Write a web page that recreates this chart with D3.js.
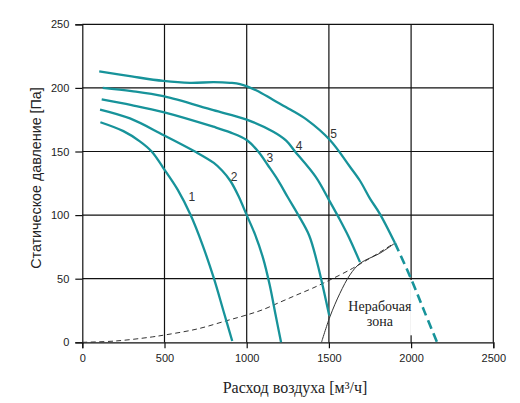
<!doctype html>
<html lang="ru">
  <head>
    <meta charset="utf-8">
    <title>Характеристика вентилятора</title>
    <script src="https://d3js.org/d3.v7.min.js"></script>
    <style>
      body { margin: 0; background: #fff; }
      .tick text { font-family: 'Liberation Sans', Arial, sans-serif; font-size: 11px; fill: #222; }
    </style>
  </head>
  <body>
    <div id="root"></div>
  </body>
  <script>

    //data: [расход м3/ч, давление Па]
    const curve1 = [[110,173],[250,166],[350,158],[422,150],[493,137],[580,120],[659,100],[730,77],[801,50],[860,24],[912,1]];
    const curve2 = [[108,183],[290,176],[493,163],[685,150],[800,141],[850,135],[900,127],[950,115],[1000,100],[1050,85],[1100,66],[1140,45],[1175,22],[1209,0]];
    const curve3 = [[118,191],[300,186.5],[493,181],[797,169.5],[900,165],[1000,159],[1070,150],[1130,139],[1190,127.5],[1250,114],[1314,100],[1380,84],[1430,62],[1470,40],[1502,21]];
    const curve4 = [[124,200],[300,197.5],[493,193.5],[797,182.5],[1000,175],[1162,165.5],[1240,158.5],[1294,150],[1420,130],[1500,112],[1560,98],[1620,83],[1689,63]];
    const curve5 = [[103,213],[300,209],[493,205.5],[655,204],[800,204.5],[898,204],[959,203],[1060,198],[1162,190.5],[1265,183],[1365,175],[1506,159],[1628,138],[1689,127],[1750,113],[1810,101],[1902,78]];
    const curve5ext = [[1902,78],[2003,49],[2080,24.5],[2158,0]];
    const systemLine = [[0,0],[200,1],[412,4],[513,6],[700,10.5],[878,17],[1000,21.5],[1095,25.5],[1202,31.5],[1300,37],[1400,42.5],[1506,49],[1628,57],[1689,61.5],[1800,70],[1892,77.5]];
    const boundary = [[1455,0],[1506,20],[1567,38.5],[1628,53],[1689,62],[1810,70],[1902,78]];
    const curveLabels = ["1", "2", "3", "4", "5"];
    const labelPos = [[667,111],[924,126.5],[1141,141.5],[1318,151],[1529,161]];
    const xTicks = [0, 500, 1000, 1500, 2000, 2500];
    const yTicks = [0, 50, 100, 150, 200, 250];

    //constants:
    const width = 520;
    const height = 403;
    const teal = "#17939a";

    const svg = d3.select("#root")
      .append("svg")
      .attr("width", width)
      .attr("height", height);

    const x = d3.scaleLinear().domain([0, 2500]).range([82.3, 493.3]);
    const y = d3.scaleLinear().domain([0, 250]).range([342.3, 24.3]);

    //grid
    const grid = svg.append("g").attr("stroke", "#111").attr("stroke-width", 1.2);
    grid.selectAll(".vg")
      .data(xTicks.slice(1))
      .enter()
      .append("line")
      .attr("x1", d => x(d)).attr("x2", d => x(d))
      .attr("y1", y(250)).attr("y2", y(0));
    grid.selectAll(".hg")
      .data(yTicks.slice(1))
      .enter()
      .append("line")
      .attr("x1", x(0)).attr("x2", x(2500))
      .attr("y1", d => y(d)).attr("y2", d => y(d));
    // gap in the 2000 line under the dashed extension
    svg.append("line")
      .attr("x1", x(2000)).attr("x2", x(2000))
      .attr("y1", y(49)).attr("y2", y(5.5))
      .attr("stroke", "#fff").attr("stroke-width", 2);

    //axes
    svg.append("g")
      .attr("transform", `translate(0,${y(0)})`)
      .call(d3.axisBottom(x).tickValues(xTicks).tickFormat(d3.format("d")).tickSize(6).tickPadding(6));
    svg.append("g")
      .attr("transform", `translate(${x(0)},0)`)
      .call(d3.axisLeft(y).tickValues(yTicks).tickSize(7).tickPadding(6));
    svg.selectAll(".domain").attr("stroke", "#111").attr("stroke-width", 1.2);
    svg.selectAll(".tick line").attr("stroke", "#111").attr("stroke-width", 1.2);

    const line = d3.line()
      .x(d => x(d[0]))
      .y(d => y(d[1]))
      .curve(d3.curveCatmullRom.alpha(0.5));

    //system curve
    svg.append("path")
      .attr("d", line(systemLine))
      .attr("fill", "none")
      .attr("stroke", "#333")
      .attr("stroke-width", 1)
      .attr("stroke-dasharray", "5,3.5");

    //boundary of working zone
    svg.append("path")
      .attr("d", line(boundary))
      .attr("fill", "none")
      .attr("stroke", "#333")
      .attr("stroke-width", 1);

    //fan curves
    svg.selectAll(".fan")
      .data([curve1, curve2, curve3, curve4, curve5])
      .enter()
      .append("path")
      .attr("d", d => line(d))
      .attr("fill", "none")
      .attr("stroke", teal)
      .attr("stroke-width", 2.3);

    svg.append("path")
      .attr("d", line(curve5ext))
      .attr("fill", "none")
      .attr("stroke", teal)
      .attr("stroke-width", 2.6)
      .attr("stroke-dasharray", "9,5");

    svg.selectAll(".clabel")
      .data(curveLabels)
      .enter()
      .append("text")
      .text(d => d)
      .attr("x", (d, i) => x(labelPos[i][0]))
      .attr("y", (d, i) => y(labelPos[i][1]))
      .attr("text-anchor", "middle")
      .attr("font-family", "'Liberation Sans', Arial, sans-serif")
      .attr("font-size", "12px")
      .attr("fill", "#333");

    //zone text
    const zone = svg.append("text")
      .attr("text-anchor", "middle")
      .attr("font-family", "'Liberation Serif', 'DejaVu Serif', serif")
      .attr("font-size", "14px")
      .attr("fill", "#222");
    zone.append("tspan").attr("x", x(1810)).attr("y", y(25)).text("Нерабочая");
    zone.append("tspan").attr("x", x(1810)).attr("y", y(12.8)).text("зона");

    //titles
    svg.append("text")
      .attr("x", 295)
      .attr("y", 393)
      .attr("text-anchor", "middle")
      .attr("font-family", "'Liberation Serif', 'DejaVu Serif', serif")
      .attr("font-size", "16px")
      .attr("fill", "#222")
      .text("Расход воздуха [м³/ч]");

    svg.append("text")
      .attr("transform", "translate(41,178) rotate(-90)")
      .attr("text-anchor", "middle")
      .attr("font-family", "'Liberation Sans', Arial, sans-serif")
      .attr("font-size", "14.3px")
      .attr("fill", "#222")
      .text("Статическое давление [Па]");

  </script>
</html>
